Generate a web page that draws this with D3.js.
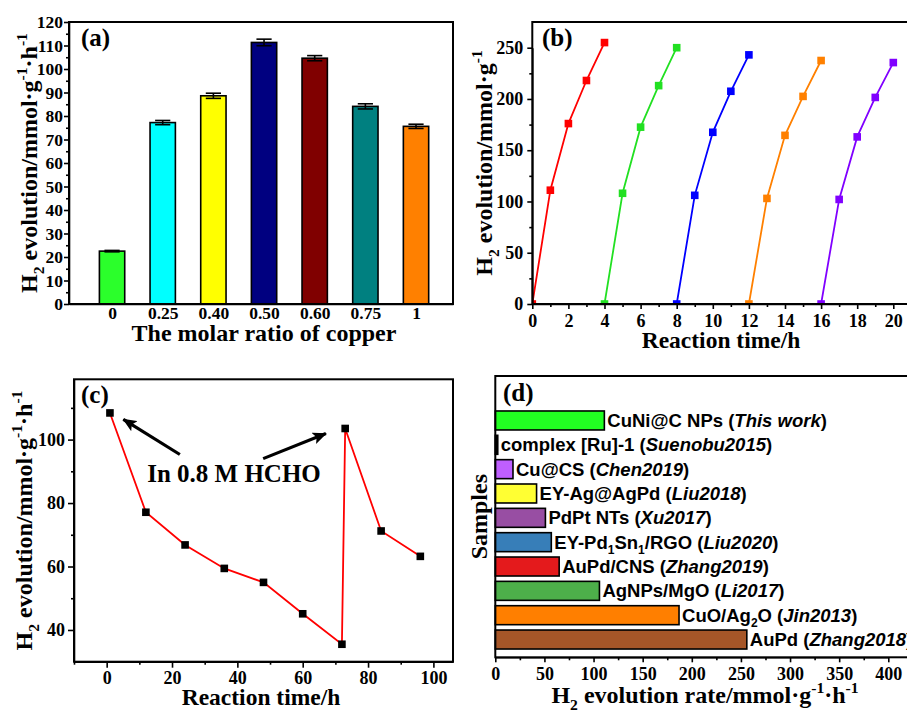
<!DOCTYPE html>
<html>
<head>
<meta charset="utf-8">
<script src="https://cdn.jsdelivr.net/npm/d3@7"></script>
<style>
  body { margin: 0; background: #fff; }
  svg text { font-family: "Liberation Serif", "Times New Roman", serif; font-weight: bold; fill: #000; }
  .tick line, .domain { stroke: #000; stroke-width: 1.6; }
</style>
</head>
<body>
<div id="wrapper"></div>
<script>
// (a) molar ratio of copper
const ratioLabels = ["0", "0.25", "0.40", "0.50", "0.60", "0.75", "1"]
const ratioValues = [22.5, 77.2, 88.6, 111.3, 104.6, 84.1, 75.6]
const ratioErrors = [0.3, 0.9, 1.1, 1.4, 1.1, 1.1, 0.9]

// (b) five cycles
const cycleTimes = [
  [0, 1, 2, 3, 4],
  [4, 5, 6, 7, 8],
  [8, 9, 10, 11, 12],
  [12, 13, 14, 15, 16],
  [16, 17, 18, 19, 20]
]
const cycleValues = [
  [0, 111, 176, 218, 255],
  [0, 108, 172.5, 213, 250],
  [0, 106, 167.5, 207.5, 243],
  [0, 103, 164.5, 202.5, 237.5],
  [0, 102, 163, 201.5, 235.5]
]

// (c) stability
const stabilityTimes = [1, 12, 24, 36, 48, 60, 72, 73, 84, 96]
const stabilityValues = [108.4, 77.1, 66.8, 59.4, 55, 45.1, 35.5, 103.5, 71.2, 63.2]

// (d) comparison
const sampleNames = ["CuNi@C NPs", "complex [Ru]-1", "Cu@CS", "EY-Ag@AgPd", "PdPt NTs",
  "EY-Pd_1Sn_1/RGO", "AuPd/CNS", "AgNPs/MgO", "CuO/Ag_2O", "AuPd"]
const sampleRefs = ["This work", "Suenobu2015", "Chen2019", "Liu2018", "Xu2017",
  "Liu2020", "Zhang2019", "Li2017", "Jin2013", "Zhang2018"]
const sampleRates = [111, 2.5, 18, 42, 51, 57, 65, 106, 187, 256]

const ratioColors = ["#2bff2b", "#00ffff", "#ffff00", "#000080", "#800000", "#008080", "#ff8000"]
const cycleColors = ["#ff0000", "#22e022", "#0000ff", "#ff8000", "#8000ff"]
const sampleColors = ["#22ff22", "#000000", "#bf5fff", "#ffff33", "#984ea3",
  "#377eb8", "#e41a1c", "#4daf4a", "#ff7f00", "#a65628"]

const svg = d3.select("#wrapper")
  .append("svg")
    .attr("width", 907)
    .attr("height", 711)

// text with sub / superscripts / italics
function richText(sel, parts, fs) {
  let shift = 0
  parts.forEach(([str, kind]) => {
    const target = kind === "sub" ? 0.3 * fs : kind === "sup" ? -0.42 * fs : 0
    const t = sel.append("tspan").text(str).attr("dy", target - shift)
    shift = target
    if (kind === "sub" || kind === "sup") t.attr("font-size", fs * 0.65)
    if (kind === "it") t.attr("font-style", "italic")
  })
}

const evoTitle = [["H", ""], ["2", "sub"], [" evolution/mmol·g", ""], ["-1", "sup"], ["·h", ""], ["-1", "sup"]]

function yTitle(x, y, parts) {
  const t = svg.append("text")
      .attr("transform", `translate(${x},${y}) rotate(-90)`)
      .attr("text-anchor", "middle")
      .attr("font-size", 24)
  richText(t, parts, 24)
}
function xTitle(x, y, parts, fs = 24) {
  const t = svg.append("text")
      .attr("x", x).attr("y", y)
      .attr("text-anchor", "middle")
      .attr("font-size", fs)
  richText(t, parts, fs)
}
function panelLabel(x, y, s) {
  svg.append("text").attr("x", x).attr("y", y).attr("font-size", 25).text(s)
}
function frame(d) {
  svg.append("rect")
      .attr("x", d.left).attr("y", d.top)
      .attr("width", d.right - d.left).attr("height", d.bottom - d.top)
      .attr("fill", "none").attr("stroke", "#000").attr("stroke-width", 2)
}
function minorAxis(axis, values, size, at) {
  svg.append("g")
      .attr("transform", at)
      .call(axis.tickValues(values).tickSize(size).tickSizeOuter(0).tickFormat(""))
      .call(g => g.select(".domain").remove())
}
function axisAt(axis, at, fs) {
  svg.append("g")
      .attr("transform", at)
      .call(axis.tickSizeOuter(0))
      .attr("font-size", fs)
      .attr("font-family", null)
}

// ---------- (a)
const a = { left: 69, right: 453, top: 22, bottom: 304 }
const xA = d3.scaleLinear().domain([-0.85, 6.73]).range([a.left, a.right])
const yA = d3.scaleLinear().domain([0, 120]).range([a.bottom, a.top])

svg.append("g").selectAll("rect")
  .data(ratioValues)
  .join("rect")
    .attr("x", (d, i) => xA(i - 0.25))
    .attr("width", xA(0.5) - xA(0))
    .attr("y", d => yA(d))
    .attr("height", d => yA(0) - yA(d))
    .attr("fill", (d, i) => ratioColors[i])
    .attr("stroke", "#000")
    .attr("stroke-width", 1.6)

const err = svg.append("g").attr("stroke", "#000").attr("stroke-width", 1.6)
ratioValues.forEach((v, i) => {
  const e = ratioErrors[i]
  err.append("line").attr("x1", xA(i)).attr("x2", xA(i)).attr("y1", yA(v - e)).attr("y2", yA(v + e))
  err.append("line").attr("x1", xA(i - 0.15)).attr("x2", xA(i + 0.15)).attr("y1", yA(v - e)).attr("y2", yA(v - e))
  err.append("line").attr("x1", xA(i - 0.15)).attr("x2", xA(i + 0.15)).attr("y1", yA(v + e)).attr("y2", yA(v + e))
})

minorAxis(d3.axisLeft(yA), d3.range(5, 120, 10), 3, `translate(${a.left},0)`)
axisAt(d3.axisLeft(yA).tickValues(d3.range(0, 121, 10)).tickSize(5).tickPadding(1),
  `translate(${a.left},0)`, 17.5)
axisAt(d3.axisBottom(xA).tickValues(d3.range(7)).tickFormat(i => ratioLabels[i]).tickSize(0).tickPadding(3),
  `translate(0,${a.bottom})`, 17.5)
frame(a)
panelLabel(81, 46, "(a)")
yTitle(37, (a.top + a.bottom) / 2, evoTitle)
xTitle((a.left + a.right) / 2 + 3, 341, [["The molar ratio of copper", ""]])

// ---------- (b)
const b = { left: 532.3, right: 930, top: 22, bottom: 304 }
const xB = d3.scaleLinear().domain([0, 20]).range([b.left, 893.3])
const yB = d3.scaleLinear().domain([0, 250]).range([b.bottom, 47.7])

svg.append("clipPath").attr("id", "clipB")
  .append("rect").attr("x", b.left).attr("y", b.top).attr("width", b.right - b.left).attr("height", b.bottom - b.top)

const lineB = d3.line().x(d => xB(d[0])).y(d => yB(d[1]))
const plotB = svg.append("g").attr("clip-path", "url(#clipB)")
cycleTimes.forEach((times, k) => {
  const pts = times.map((t, j) => [t, cycleValues[k][j]])
  plotB.append("path")
      .attr("d", lineB(pts))
      .attr("fill", "none")
      .attr("stroke", cycleColors[k])
      .attr("stroke-width", 1.8)
  plotB.selectAll(null)
    .data(pts)
    .join("rect")
      .attr("x", d => xB(d[0]) - 3.8)
      .attr("y", d => yB(d[1]) - 3.8)
      .attr("width", 7.6)
      .attr("height", 7.6)
      .attr("fill", cycleColors[k])
})

minorAxis(d3.axisLeft(yB), d3.range(25, 250, 50), 3, `translate(${b.left},0)`)
minorAxis(d3.axisBottom(xB), d3.range(1, 20, 2), 3, `translate(0,${b.bottom})`)
axisAt(d3.axisLeft(yB).tickValues(d3.range(0, 251, 50)).tickSize(5).tickPadding(4),
  `translate(${b.left},0)`, 18)
axisAt(d3.axisBottom(xB).tickValues(d3.range(0, 21, 2)).tickSize(5).tickPadding(5),
  `translate(0,${b.bottom})`, 18)
frame(b)
panelLabel(542, 46, "(b)")
yTitle(492, (b.top + b.bottom) / 2, [["H", ""], ["2", "sub"], [" evolution/mmol·g", ""], ["-1", "sup"]])
xTitle(721, 348, [["Reaction time/h", ""]], 23.5)

// ---------- (c)
const c = { left: 74, right: 453, top: 379.3, bottom: 661.7 }
const xC = d3.scaleLinear().domain([-10, 106]).range([c.left, c.right])
const yC = d3.scaleLinear().domain([30, 119]).range([c.bottom, c.top])

const stab = stabilityTimes.map((t, i) => [t, stabilityValues[i]])
svg.append("path")
    .attr("d", d3.line().x(d => xC(d[0])).y(d => yC(d[1]))(stab))
    .attr("fill", "none")
    .attr("stroke", "#ff0000")
    .attr("stroke-width", 1.8)
svg.append("g").selectAll("rect")
  .data(stab)
  .join("rect")
    .attr("x", d => xC(d[0]) - 3.8)
    .attr("y", d => yC(d[1]) - 3.8)
    .attr("width", 7.6)
    .attr("height", 7.6)
    .attr("fill", "#000")

svg.append("defs").append("marker")
    .attr("id", "arrow")
    .attr("markerUnits", "userSpaceOnUse")
    .attr("viewBox", "0 0 14 12")
    .attr("refX", 13).attr("refY", 6)
    .attr("markerWidth", 14).attr("markerHeight", 12)
    .attr("orient", "auto")
  .append("path")
    .attr("d", "M0,0 L14,6 L0,12 L3,6 Z")
    .attr("fill", "#000")

const arrows = [
  [[22.4, 95.3], [5.1, 106.4]],
  [[47.9, 94], [67.1, 101.9]]
]
svg.append("g").selectAll("line")
  .data(arrows)
  .join("line")
    .attr("x1", d => xC(d[0][0])).attr("y1", d => yC(d[0][1]))
    .attr("x2", d => xC(d[1][0])).attr("y2", d => yC(d[1][1]))
    .attr("stroke", "#000")
    .attr("stroke-width", 3.2)
    .attr("marker-end", "url(#arrow)")
svg.append("text")
    .attr("x", 234).attr("y", 481.5)
    .attr("text-anchor", "middle")
    .attr("font-size", 25)
    .text("In 0.8 M HCHO")

minorAxis(d3.axisLeft(yC), d3.range(50, 119, 20), 3, `translate(${c.left},0)`)
minorAxis(d3.axisBottom(xC), d3.range(-10, 100, 20), 3, `translate(0,${c.bottom})`)
axisAt(d3.axisLeft(yC).tickValues([40, 60, 80, 100]).tickSize(6).tickPadding(3),
  `translate(${c.left},0)`, 18)
axisAt(d3.axisBottom(xC).tickValues(d3.range(0, 101, 20)).tickSize(6).tickPadding(4),
  `translate(0,${c.bottom})`, 18)
frame(c)
panelLabel(81, 403, "(c)")
yTitle(32, (c.top + c.bottom) / 2, evoTitle)
xTitle(261, 705, [["Reaction time/h", ""]], 23.5)

// ---------- (d)
const dd = { left: 495.3, right: 930, top: 376, bottom: 657.3 }
const xD = d3.scaleLinear().domain([0, 400]).range([dd.left, 888.3])
const yD = d3.scaleBand().domain(sampleNames).range([408.3, 651.7]).paddingInner(0.22).paddingOuter(0.11)

svg.append("g").selectAll("rect")
  .data(sampleRates)
  .join("rect")
    .attr("x", xD(0))
    .attr("y", (d, i) => yD(sampleNames[i]))
    .attr("width", d => xD(d) - xD(0))
    .attr("height", yD.bandwidth())
    .attr("fill", (d, i) => sampleColors[i])
    .attr("stroke", "#000")
    .attr("stroke-width", 1.6)

function nameParts(name) {
  const parts = []
  name.split(/_(\d)/).forEach((s, i) => { if (s) parts.push([s, i % 2 ? "sub" : ""]) })
  return parts
}
sampleRates.forEach((v, i) => {
  const t = svg.append("text")
      .attr("x", xD(v) + 3)
      .attr("y", yD(sampleNames[i]) + yD.bandwidth() / 2 + 6.5)
      .attr("font-size", 18.5)
      .style("font-family", "'Liberation Sans', Arial, sans-serif")
  richText(t, nameParts(sampleNames[i]).concat([[" (", ""], [sampleRefs[i], "it"], [")", ""]]), 18.5)
})

minorAxis(d3.axisBottom(xD), d3.range(25, 420, 50), 3, `translate(0,${dd.bottom})`)
axisAt(d3.axisBottom(xD).tickValues(d3.range(0, 401, 50)).tickSize(5).tickPadding(5),
  `translate(0,${dd.bottom})`, 18)
frame(dd)
panelLabel(503, 401, "(d)")
yTitle(487, (dd.top + dd.bottom) / 2, [["Samples", ""]])
xTitle(705, 703, [["H", ""], ["2", "sub"], [" evolution rate/mmol·g", ""], ["-1", "sup"], ["·h", ""], ["-1", "sup"]])
</script>
</body>
</html>
